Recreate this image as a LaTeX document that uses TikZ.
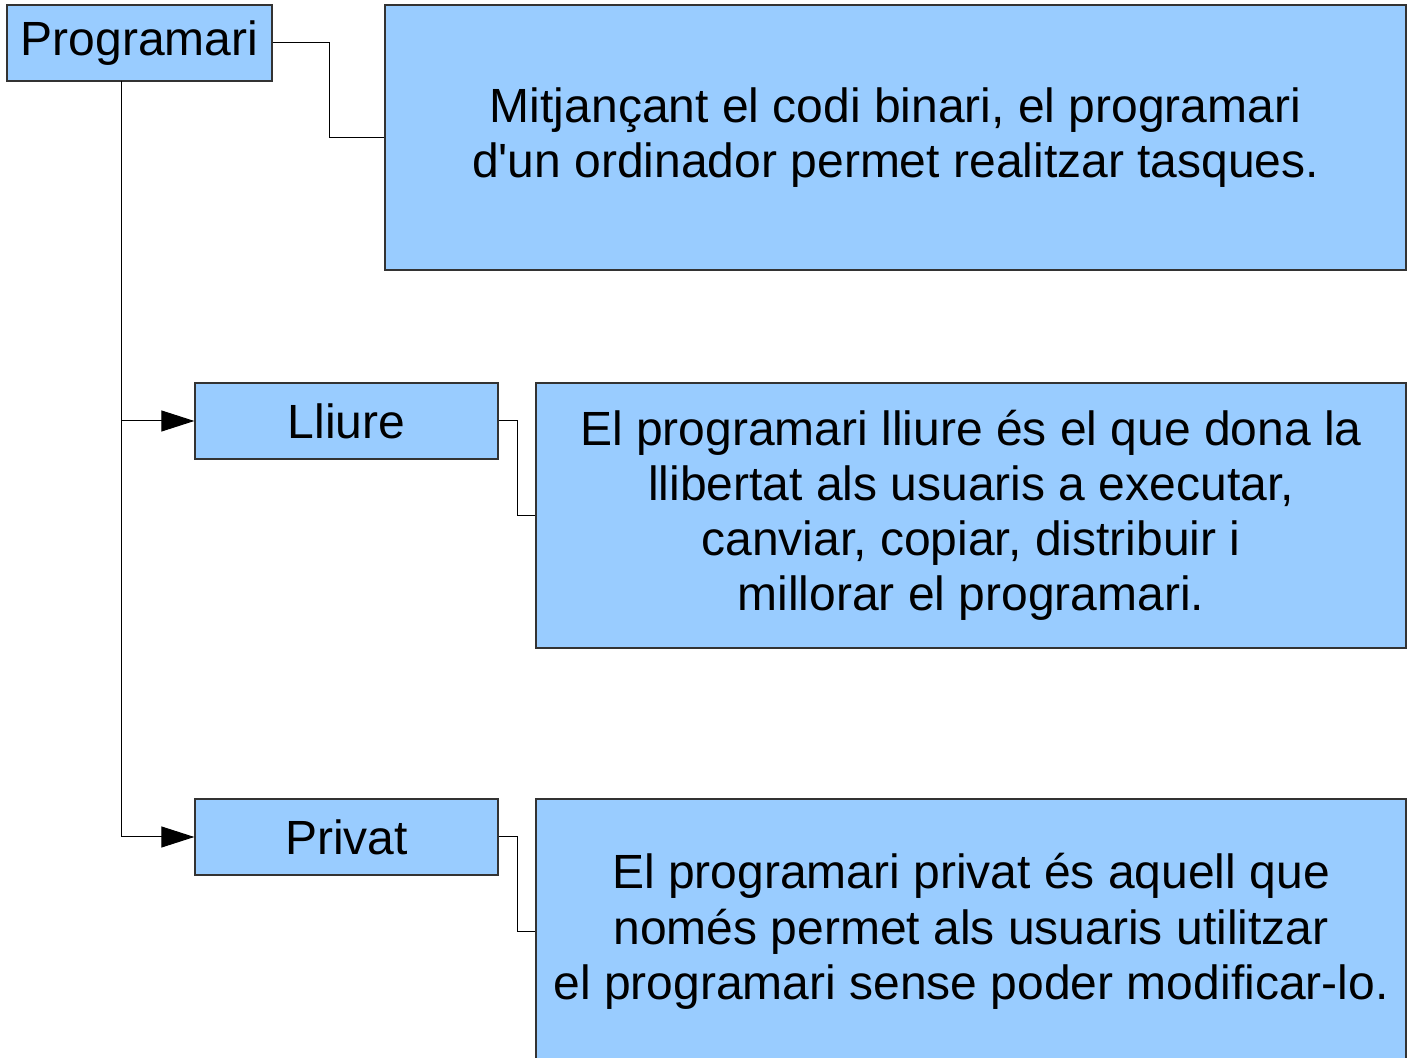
\documentclass[tikz,border=0pt]{standalone}
\usepackage{fontspec}
\setmainfont{Liberation Sans}
\usetikzlibrary{positioning,calc,arrows.meta}

\definecolor{boxblue}{HTML}{99CCFF}
\tikzset{
    box/.style={draw=black!80, line width=0.65pt, fill=boxblue, inner sep=0pt, align=center,
        font=\fontsize{24}{27.6}\selectfont},
    conn/.style={draw=black, line width=0.5pt},
    tip/.style={-{Triangle[length=16.5pt,width=10.5pt]}}
}

\begin{document}
\begin{tikzpicture}[x=0.5pt, y=-0.5pt]
    \useasboundingbox (0,0) rectangle (1415,1058);

    % Top level
    \node[box, minimum width=132.5pt, minimum height=38pt] (prog) at (139.5,43) {Programari};
    \node[box, minimum width=510.5pt, minimum height=132.5pt] (progtxt) at (895.5,137.5)
        {Mitjançant el codi binari, el programari\\d\textquotesingle un ordinador permet realitzar tasques.};

    % Branches
    \node[box, minimum width=151.5pt, minimum height=38pt] (lliure) at (346.5,421) {Lliure};
    \node[box, minimum width=435pt, minimum height=132.5pt] (lliuretxt) at (971,515.5)
        {El programari lliure és el que dona la\\llibertat als usuaris a executar,\\canviar, copiar, distribuir i\\millorar el programari.};

    \node[box, minimum width=151.5pt, minimum height=38pt] (privat) at (346.5,837) {Privat};
    \node[box, minimum width=435pt, minimum height=132.5pt] (privattxt) at (971,931.5)
        {El programari privat és aquell que\\només permet als usuaris utilitzar\\el programari sense poder modificar-lo.};

    % Connectors
    \coordinate (trunk) at (121,81);
    \draw[conn] (prog.east) -- ++(57,0) |- (progtxt.west);
    \draw[conn, tip] (trunk) |- (lliure.west);
    \draw[conn, tip] (trunk) |- (privat.west);
    \draw[conn] (lliure.east) -- ++(19,0) |- (lliuretxt.west);
    \draw[conn] (privat.east) -- ++(19,0) |- (privattxt.west);

\end{tikzpicture}
\end{document}
